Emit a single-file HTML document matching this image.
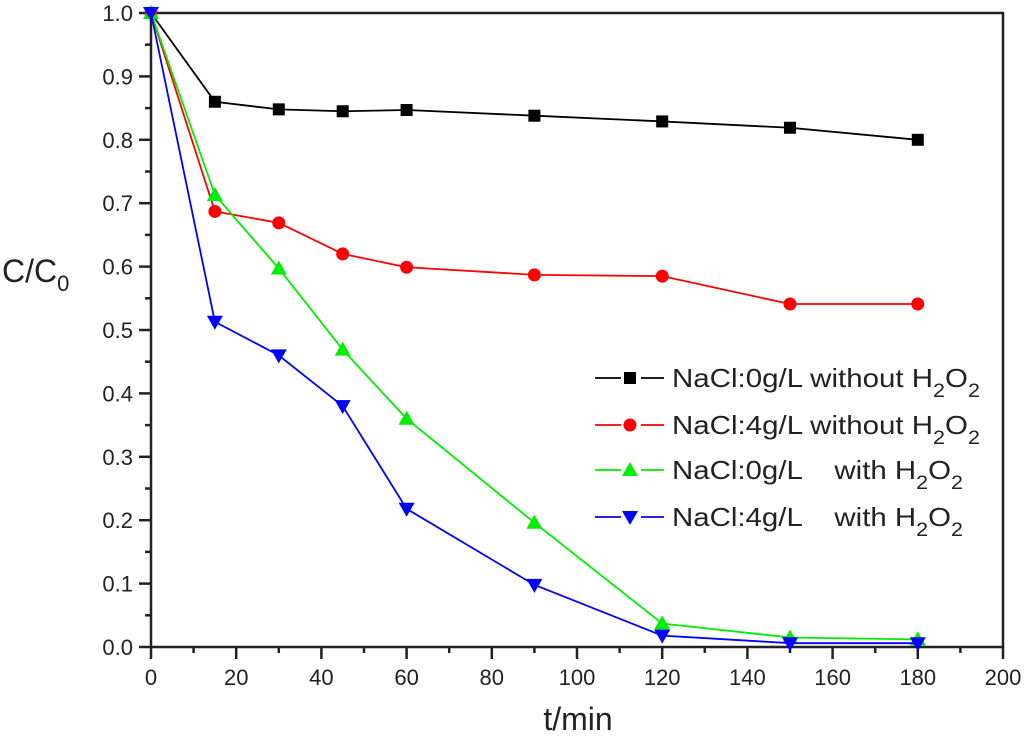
<!DOCTYPE html>
<html><head><meta charset="utf-8"><style>
body{margin:0;background:#fff}
svg{font-family:"Liberation Sans",Arial,sans-serif}
</style></head><body>
<svg width="1024" height="745" viewBox="0 0 1024 745">
<g id="axes"></g><g id="series"></g><g id="legend"></g>
<text x="2" y="282" font-size="32" fill="#222">C/C<tspan font-size="22" dy="9">0</tspan></text>
<text x="578" y="730" font-size="32" fill="#222" text-anchor="middle">t/min</text>
</svg>
<script>
const times=[0,15,30,45,60,90,120,150,180];
const s1=[1.0,0.86,0.848,0.845,0.847,0.838,0.829,0.819,0.80];
const s2=[1.0,0.687,0.669,0.62,0.599,0.587,0.585,0.541,0.541];
const s3=[1.0,0.713,0.597,0.469,0.36,0.196,0.037,0.015,0.012];
const s4=[1.0,0.513,0.46,0.38,0.218,0.098,0.018,0.006,0.006];
const xTicks=[0,20,40,60,80,100,120,140,160,180,200];
const yTicks=[0.0,0.1,0.2,0.3,0.4,0.5,0.6,0.7,0.8,0.9,1.0];
const NS="http://www.w3.org/2000/svg";
const X=v=>151+(v/200)*852, Y=v=>647-v*634;
function mk(t,a,p){const e=document.createElementNS(NS,t);for(const k in a)e.setAttribute(k,a[k]);p.appendChild(e);return e;}
const ax=document.getElementById('axes');
const fr=mk('rect',{x:151,y:13,width:852,height:634,fill:'none',stroke:'#222','stroke-width':2.5},ax);


for(let i=0;i<=20;i++){const v=i*10,maj=i%2==0;
 const t=mk('line',{x1:X(v),x2:X(v),y1:647,y2:647+(maj?12:6),stroke:'#222','stroke-width':2.5},ax);
 
 }
xTicks.forEach(v=>{const t=mk('text',{x:X(v),y:685,'font-size':22,'text-anchor':'middle',fill:'#222'},ax);t.textContent=v;
 
 });
for(let i=0;i<=20;i++){const v=i*0.05,maj=i%2==0;
 const t=mk('line',{x1:151-(maj?12:6),x2:151,y1:Y(v),y2:Y(v),stroke:'#222','stroke-width':2.5},ax);
 
 }
yTicks.forEach(v=>{const t=mk('text',{x:133,y:Y(v)+8,'font-size':22,'text-anchor':'end',fill:'#222'},ax);t.textContent=v.toFixed(1);
 
 });
const marker=(shape,x,y,c,p)=>{let e;
 if(shape=='sq')e=mk('rect',{x:x-6,y:y-6,width:12,height:12,fill:c},p);
 else if(shape=='ci')e=mk('circle',{cx:x,cy:y,r:6.5,fill:c},p);
 else if(shape=='up')e=mk('polygon',{points:`${x},${y-8} ${x-8},${y+6} ${x+8},${y+6}`,fill:c},p);
 else e=mk('polygon',{points:`${x},${y+8} ${x-8},${y-6} ${x+8},${y-6}`,fill:c},p);
 return e;};
const sers=[[s1,'#000','sq','black'],[s2,'#f00','ci','red'],[s3,'#0e0','up','green'],[s4,'#00f','dn','blue']];
const sg=document.getElementById('series');
sers.forEach(([d,c,sh,n])=>{
 const pl=mk('polyline',{points:times.map((t,i)=>X(t)+','+Y(d[i])).join(' '),fill:'none',stroke:c,'stroke-width':1.8},sg);
 
 
 times.forEach((t,i)=>{const m=marker(sh,X(t),Y(d[i]),c,sg);
  
  });
});
const lg=document.getElementById('legend');
const labels=['NaCl:0g/L without H','NaCl:4g/L without H','NaCl:0g/L    with H','NaCl:4g/L    with H'];
const rowsY=[378,425,470,517];
const rowsW=[308,308,291,291];
sers.forEach(([d,c,sh,n],i)=>{const y=rowsY[i];
 const g=mk('g',{},lg);
 
 
 mk('line',{x1:595,x2:621,y1:y,y2:y,stroke:c,'stroke-width':1.8},g);
 mk('line',{x1:641,x2:664,y1:y,y2:y,stroke:c,'stroke-width':1.8},g);
 marker(sh,630,y,c,g);
 const t=mk('text',{x:672,y:y+9,'font-size':26,fill:'#222',textLength:rowsW[i],lengthAdjust:'spacingAndGlyphs'},g);
 t.setAttribute('style','white-space:pre');
 t.innerHTML=`${labels[i]}<tspan font-size="19" dy="10">2</tspan><tspan dy="-10">O</tspan><tspan font-size="19" dy="10">2</tspan>`;
});
</script>
</body></html>
